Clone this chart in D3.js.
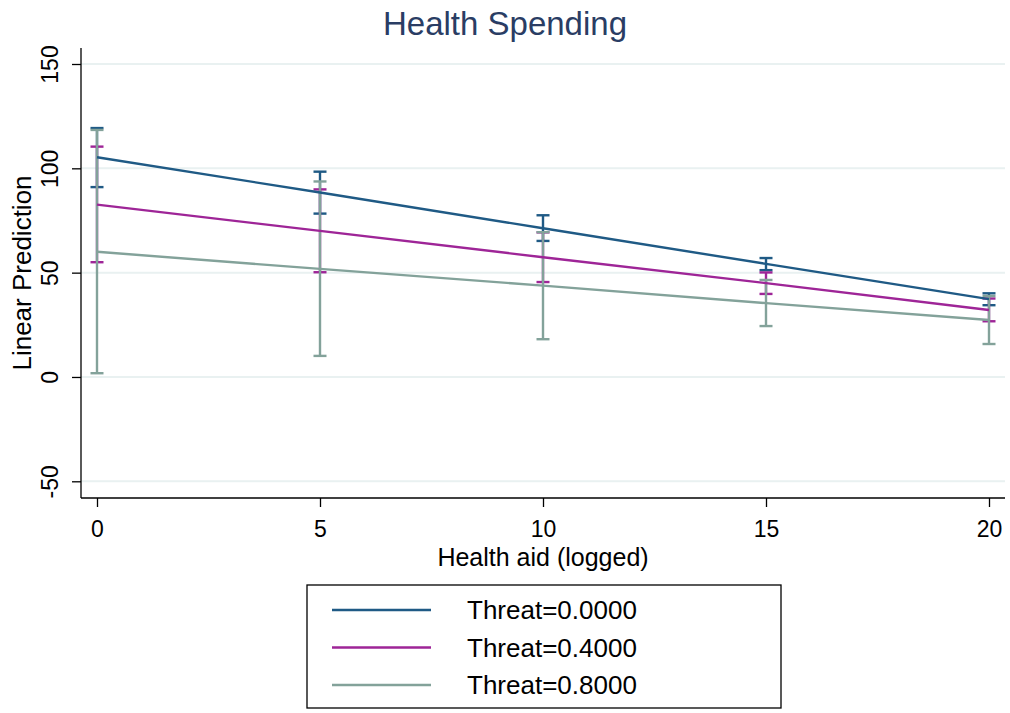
<!DOCTYPE html>
<html>
<head>
<meta charset="utf-8">
<script src="https://cdn.jsdelivr.net/npm/d3@7"></script>
<style>
  html,body{margin:0;padding:0;background:#fff;}
  svg{display:block;font-family:"Liberation Sans",Arial,Helvetica,sans-serif;}
</style>
</head>
<body>
<svg id="chart" width="1010" height="713"></svg>
<script>
// ── DONNÉES ──────────────────────────────────────────────
var xVals=[0,5,10,15,20];
var xTicks=[0,5,10,15,20];
var yTicks=[-50,0,50,100,150];
var seriesNames=["Threat=0.0000","Threat=0.4000","Threat=0.8000"];
var seriesColors=["#1f5a85","#9e2597","#83a29a"];
// prédictions linéaires et IC 95 %
var fit0=[105.3,88.4,71.3,54.2,37.3];
var lo0=[91.0,78.3,65.2,51.2,34.4];
var hi0=[119.3,98.4,77.5,57.0,40.1];
var fit4=[82.6,70.0,57.4,45.0,32.1];
var lo4=[55.0,50.2,45.5,39.8,26.7];
var hi4=[110.4,89.9,69.3,50.1,37.6];
var fit8=[60.0,51.8,43.8,35.4,27.3];
var lo8=[1.8,10.1,18.1,24.4,15.8];
var hi8=[118.4,93.7,69.4,46.5,38.8];

var fits=[fit0,fit4,fit8],los=[lo0,lo4,lo8],his=[hi0,hi4,hi8];

// ── ÉCHELLES ─────────────────────────────────────────────
var axL=81,axR=1005,axT=48,axB=498;
var x=d3.scaleLinear().domain([0,20]).range([97,989]);
var y=d3.scaleLinear().domain([-50,150]).range([481.3,64]);
var fmt=function(d){return String(d);}; // trait d'union simple, comme Stata

var svg=d3.select("#chart");

// Grille
svg.append("g").selectAll("line").data(yTicks).enter().append("line")
  .attr("x1",axL).attr("x2",axR)
  .attr("y1",function(d){return y(d);}).attr("y2",function(d){return y(d);})
  .attr("stroke","#e9f1f1").attr("stroke-width",2);

// Axe Y
var yAxis=d3.axisLeft(y).tickValues(yTicks).tickSize(9).tickPadding(0).tickFormat(fmt);
var gy=svg.append("g").attr("transform","translate("+axL+",0)").call(yAxis);
gy.select(".domain").attr("d","M0,"+axT+"V"+axB).attr("stroke","#000").attr("stroke-width",1.3);
gy.selectAll(".tick line").attr("stroke","#000").attr("stroke-width",1.3);
gy.selectAll(".tick text")
  .attr("x",null).attr("dy",null)
  .attr("transform","translate(-23,0) rotate(-90)")
  .attr("text-anchor","middle")
  .attr("fill","#000").style("font-size","23px").style("font-family","inherit");

// Axe X
var xAxis=d3.axisBottom(x).tickValues(xTicks).tickSize(9).tickPadding(0).tickFormat(fmt);
var gx=svg.append("g").attr("transform","translate(0,"+axB+")").call(xAxis);
gx.select(".domain").attr("d","M"+axL+",0H"+axR).attr("stroke","#000").attr("stroke-width",1.3);
gx.selectAll(".tick line").attr("stroke","#000").attr("stroke-width",1.3);
gx.selectAll(".tick text").attr("y",39).attr("dy",null)
  .attr("fill","#000").style("font-size","23px").style("font-family","inherit");

// Intervalles de confiance (rcap)
var capW=6.5;
seriesNames.forEach(function(name,s){
  var g=svg.append("g").attr("stroke",seriesColors[s]).attr("stroke-width",2.4).attr("fill","none");
  xVals.forEach(function(xv,i){
    var px=x(xv),pl=y(los[s][i]),ph=y(his[s][i]);
    g.append("line").attr("x1",px).attr("x2",px).attr("y1",pl).attr("y2",ph);
    g.append("line").attr("x1",px-capW).attr("x2",px+capW).attr("y1",pl).attr("y2",pl);
    g.append("line").attr("x1",px-capW).attr("x2",px+capW).attr("y1",ph).attr("y2",ph);
  });
});

// Lignes de prédiction
var line=d3.line().x(function(d,i){return x(xVals[i]);}).y(function(d){return y(d);});
seriesNames.forEach(function(name,s){
  svg.append("path").datum(fits[s]).attr("d",line)
    .attr("fill","none").attr("stroke",seriesColors[s]).attr("stroke-width",2.4);
});

// Titres
svg.append("text").attr("x",505).attr("y",35).attr("text-anchor","middle")
  .attr("fill","#2a3d64").style("font-size","33px").text("Health Spending");
svg.append("text").attr("x",543).attr("y",566).attr("text-anchor","middle")
  .attr("fill","#000").style("font-size","25px").text("Health aid (logged)");
svg.append("text").attr("transform","translate(31,273) rotate(-90)").attr("text-anchor","middle")
  .attr("fill","#000").style("font-size","26px").text("Linear Prediction");

// Légende
var leg=svg.append("g");
leg.append("rect").attr("x",307).attr("y",585).attr("width",474).attr("height",123)
  .attr("fill","#fff").attr("stroke","#000").attr("stroke-width",1.3);
seriesNames.forEach(function(name,s){
  var ly=610+s*37.5;
  leg.append("line").attr("x1",332).attr("x2",431).attr("y1",ly).attr("y2",ly)
    .attr("stroke",seriesColors[s]).attr("stroke-width",2.4);
  leg.append("text").attr("x",467).attr("y",ly+9).attr("fill","#000")
    .style("font-size","26px").text(name);
});
</script>
</body>
</html>
